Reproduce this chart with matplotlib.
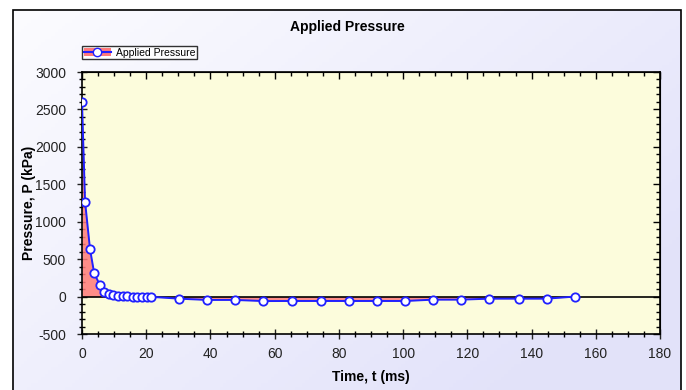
import numpy as np
import matplotlib
matplotlib.use("Agg")
import matplotlib.pyplot as plt
from matplotlib.patches import Rectangle
from matplotlib.ticker import MultipleLocator
from matplotlib.lines import Line2D
from matplotlib.patches import Patch

time_ms = [0.0, 0.95, 2.5, 3.8, 5.6, 6.85, 8.5, 9.75, 11.3, 12.9, 14.1, 15.8, 17.0, 18.6, 20.1, 21.4,
           30.2, 39.0, 47.6, 56.5, 65.3, 74.3, 83.2, 91.9, 100.7, 109.4, 118.1, 126.8, 136.0, 144.7, 153.5]
pressure_kpa = [2600, 1270, 632, 311, 151, 66, 39, 21, 10, 5, 3, 0, 0, -2, -3, -3,
                -28, -45, -45, -60, -59, -59, -59, -59, -59, -41, -41, -28, -28, -28, 0]

title = "Applied Pressure"
xlabel = "Time, t (ms)"
ylabel = "Pressure, P (kPa)"
series_name = "Applied Pressure"

plt.rcParams['font.family'] = ['Liberation Sans', 'DejaVu Sans']
plt.rcParams['axes.unicode_minus'] = False

W, H = 686, 390
fig = plt.figure(figsize=(W/100, H/100), dpi=100)

bg = fig.add_axes([0, 0, 1, 1], zorder=-10)
gx, gy = np.meshgrid(np.linspace(0, 1, 200), np.linspace(0, 1, 120))
g = np.clip((gx * 0.7 + gy * 0.5), 0, 1)
c0 = np.array([0.99, 0.99, 1.0])
c1 = np.array([0.89, 0.89, 0.98])
img = c0[None, None, :] * (1 - g[..., None]) + c1[None, None, :] * g[..., None]
bg.imshow(img, aspect='auto', extent=[0, 1, 0, 1], origin='upper')
bg.set_xlim(0, 1); bg.set_ylim(0, 1)
bg.axis('off')
bg.add_patch(Rectangle((0, 0), 13/W, 1, facecolor='white', edgecolor='none', transform=bg.transAxes))
bg.add_patch(Rectangle((0, 1 - 10/H), 1, 10/H, facecolor='white', edgecolor='none', transform=bg.transAxes))
bg.add_patch(Rectangle((681/W, 0), 1, 1, facecolor='white', edgecolor='none', transform=bg.transAxes))
bg.add_patch(Rectangle((13/W, -0.05), (681-13)/W, 1.05 - 10/H, fill=False,
                       edgecolor='black', linewidth=1.2, transform=bg.transAxes))

ax = fig.add_axes([82/W, 1 - 334/H, (660-82)/W, (334-72)/H])
ax.set_facecolor('#fcfcdc')

t = np.array(time_ms)
p = np.array(pressure_kpa)
ax.fill_between(t, p, 0, color='#ff7a7a', alpha=0.85, linewidth=0, zorder=2)
ax.axhline(0, color='black', linewidth=1.2, zorder=3)
ax.plot(t, p, color='#2020ff', linewidth=1.4, marker='o', markersize=6,
        markerfacecolor='white', markeredgecolor='#2020ff', markeredgewidth=1.3,
        zorder=4)

ax.set_xlim(0, 180)
ax.set_ylim(-500, 3000)
ax.xaxis.set_major_locator(MultipleLocator(20))
ax.xaxis.set_minor_locator(MultipleLocator(5))
ax.yaxis.set_major_locator(MultipleLocator(500))
ax.yaxis.set_minor_locator(MultipleLocator(100))
ax.tick_params(axis='both', which='major', direction='inout', length=7, width=1,
               labelsize=10, colors='#222222')
ax.tick_params(axis='x', which='major', pad=6)
ax.tick_params(axis='y', which='major', pad=8)
ax.tick_params(axis='both', which='minor', direction='inout', length=5, width=1)
for sp in ax.spines.values():
    sp.set_linewidth(1.2)

sx = ax.secondary_xaxis('top')
sx.xaxis.set_major_locator(MultipleLocator(20))
sx.xaxis.set_minor_locator(MultipleLocator(5))
sx.tick_params(which='major', direction='in', length=5, width=1, labeltop=False)
sx.tick_params(which='minor', direction='in', length=3, width=1)
sy = ax.secondary_yaxis('right')
sy.yaxis.set_major_locator(MultipleLocator(500))
sy.yaxis.set_minor_locator(MultipleLocator(100))
sy.tick_params(which='major', direction='in', length=5, width=1, labelright=False)
sy.tick_params(which='minor', direction='in', length=3, width=1)

ax.set_xlabel(xlabel, fontsize=10, fontweight='bold')
ax.set_ylabel(ylabel, fontsize=10, fontweight='bold')
ax.xaxis.set_label_coords(0.5, -(370 - 334) / 262)
ax.yaxis.set_label_coords(-(82 - 36) / 578, 0.5)

fig.text(347/W, 1 - 27/H, title, ha='center', va='center', fontsize=10,
         fontweight='bold')

handle = (Patch(facecolor='#ff7a7a', edgecolor='none'),
          Line2D([], [], color='#2020ff', linewidth=1.5, marker='o', markersize=6,
                 markerfacecolor='white', markeredgecolor='#2020ff'))
leg = fig.legend([handle], [series_name], loc='upper left',
                 bbox_to_anchor=(82/W, 1 - 46/H), fontsize=7.5, frameon=True,
                 fancybox=False, edgecolor='black', borderpad=0.15, handlelength=2.6,
                 handletextpad=0.5, borderaxespad=0)
leg.get_frame().set_linewidth(1)

fig.savefig('out.png', dpi=100)
